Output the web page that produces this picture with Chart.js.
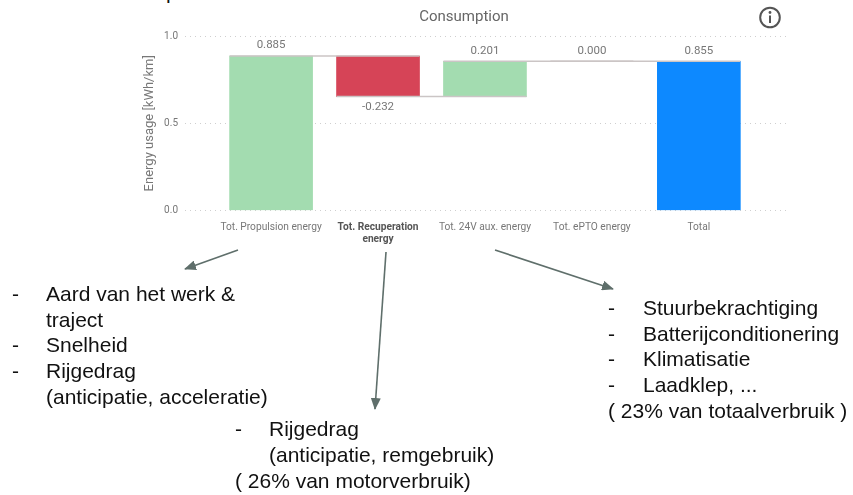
<!DOCTYPE html>
<html>
<head>
<meta charset="utf-8">
<script src="https://cdn.jsdelivr.net/npm/chart.js@4"></script>
<style>
  html, body { margin: 0; padding: 0; background: #fff; overflow: hidden; }
  #page { position: relative; width: 853px; height: 495px; overflow: hidden; }
  #wrap { position: absolute; left: 142px; top: 0; width: 656px; height: 250px; }
  svg { position: absolute; left: 0; top: 0; }
  .note { position: absolute; font: 21px/25.7px "Liberation Sans", Arial, sans-serif; color: #111; white-space: pre; }
</style>
</head>
<body>
<div id="page">
  <div class="note" style="left:166px;top:-21px">p</div>
  <div id="wrap"><canvas id="chart" width="656" height="250"></canvas></div>
  <svg width="853" height="495">
    <defs>
      <marker id="head" markerUnits="userSpaceOnUse" markerWidth="12" markerHeight="10" refX="11" refY="5" orient="auto">
        <path d="M0 0 L12 5 L0 10 Z" fill="#5f6f6b"/>
      </marker>
    </defs>
    <g stroke="#5f6f6b" stroke-width="1.6" fill="none">
      <line x1="238" y1="250" x2="185" y2="269" marker-end="url(#head)"/>
      <line x1="386" y1="252" x2="375" y2="409" marker-end="url(#head)"/>
      <line x1="495" y1="250" x2="613" y2="289" marker-end="url(#head)"/>
    </g>
    <circle cx="770" cy="17.5" r="9.8" fill="none" stroke="#555" stroke-width="2"/>
    <circle cx="770" cy="12.5" r="1.4" fill="#555"/>
    <rect x="769" y="15.5" width="2" height="7.5" fill="#555"/>
  </svg>
  <div class="note" style="left:12px;top:281px">-</div>
  <div class="note" style="left:46px;top:281px">Aard van het werk &amp;
traject
Snelheid
Rijgedrag
(anticipatie, acceleratie)</div>
  <div class="note" style="left:12px;top:332px">-</div>
  <div class="note" style="left:12px;top:358px">-</div>
  <div class="note" style="left:235px;top:416px">-</div>
  <div class="note" style="left:269px;top:416px">Rijgedrag
(anticipatie, remgebruik)</div>
  <div class="note" style="left:235px;top:468px">( 26% van motorverbruik)</div>
  <div class="note" style="left:608px;top:295px">-
-
-
-
( 23% van totaalverbruik )</div>
  <div class="note" style="left:643px;top:295px">Stuurbekrachtiging
Batterijconditionering
Klimatisatie
Laadklep, ...</div>
</div>
<script>
const categories = ["Tot. Propulsion energy", ["Tot. Recuperation", "energy"], "Tot. 24V aux. energy", "Tot. ePTO energy", "Total"];
const barStart = [0, 0.885, 0.653, 0.855, 0];
const barEnd = [0.885, 0.653, 0.855, 0.855, 0.855];
const valueLabels = ["0.885", "-0.232", "0.201", "0.000", "0.855"];
const barColors = ["#a3dcb0", "#d64457", "#a3dcb0", "#a3dcb0", "#0d89ff"];
const yTicks = [0, 0.5, 1];

const textColor = "#777";

// connectors between the bars and the value text above or below each bar
const waterfallExtras = {
    id: "waterfallExtras",
    afterDatasetsDraw(chart) {
        const ctx = chart.ctx;
        const y = chart.scales.y;
        const bars = chart.getDatasetMeta(0).data;
        ctx.save();
        ctx.strokeStyle = "#cbc5c5";
        ctx.lineWidth = 1.5;
        for (let i = 0; i < bars.length - 1; i++) {
            const py = y.getPixelForValue(barEnd[i]);
            ctx.beginPath();
            ctx.moveTo(bars[i].x - bars[i].width / 2, py);
            ctx.lineTo(bars[i + 1].x + bars[i + 1].width / 2, py);
            ctx.stroke();
        }
        ctx.fillStyle = textColor;
        ctx.font = "11.5px Roboto";
        ctx.textAlign = "center";
        ctx.textBaseline = "middle";
        bars.forEach((bar, i) => {
            const down = barEnd[i] < barStart[i];
            const edge = y.getPixelForValue(Math.max(barStart[i], barEnd[i]));
            const py = down ? y.getPixelForValue(barEnd[i]) + 11 : edge - 10.5;
            ctx.fillText(valueLabels[i], bar.x, py);
        });
        ctx.restore();
    },
};

new Chart(document.getElementById("chart"), {
    type: "bar",
    data: {
        datasets: [
            {
                data: categories.map((_, i) => ({ x: i, y: [barStart[i], barEnd[i]] })),
                backgroundColor: barColors,
                barThickness: 83,
                borderSkipped: false,
            },
        ],
    },
    options: {
        responsive: false,
        animation: false,
        layout: { padding: { right: 12 } },
        plugins: {
            legend: { display: false },
            tooltip: { enabled: false },
            title: {
                display: true,
                text: "Consumption",
                color: "#666",
                font: { family: "Roboto", size: 15, weight: "normal" },
                padding: { top: 8, bottom: 10 },
            },
        },
        scales: {
            x: {
                type: "linear",
                offset: false,
                min: -0.805,
                max: 4.815,
                grid: { display: false },
                border: { display: false },
                afterBuildTicks: (axis) => {
                    axis.ticks = categories.map((_, i) => ({ value: i }));
                },
                afterFit: (axis) => {
                    axis.height = 39.5;
                },
                ticks: {
                    autoSkip: false,
                    maxRotation: 0,
                    color: (c) => (c.index === 1 ? "#555" : textColor),
                    font: (c) => ({ family: "Roboto", size: 10.2, weight: c.index === 1 ? "bold" : "normal" }),
                    padding: 3,
                    callback: (value) => categories[value],
                },
            },
            y: {
                min: 0,
                max: 1,
                border: { display: false, dash: [1, 4] },
                grid: { color: "#cfcfcf", drawTicks: false },
                afterBuildTicks: (axis) => {
                    axis.ticks = yTicks.map((v) => ({ value: v }));
                },
                afterFit: (axis) => {
                    axis.width = 43;
                },
                title: {
                    display: true,
                    text: "Energy usage [kWh/km]",
                    color: textColor,
                    font: { family: "Roboto", size: 13 },
                    padding: 0,
                },
                ticks: {
                    color: textColor,
                    font: { family: "Roboto", size: 10 },
                    padding: 7,
                    callback: (value) => value.toFixed(1),
                },
            },
        },
    },
    plugins: [waterfallExtras],
});
</script>
</body>
</html>
